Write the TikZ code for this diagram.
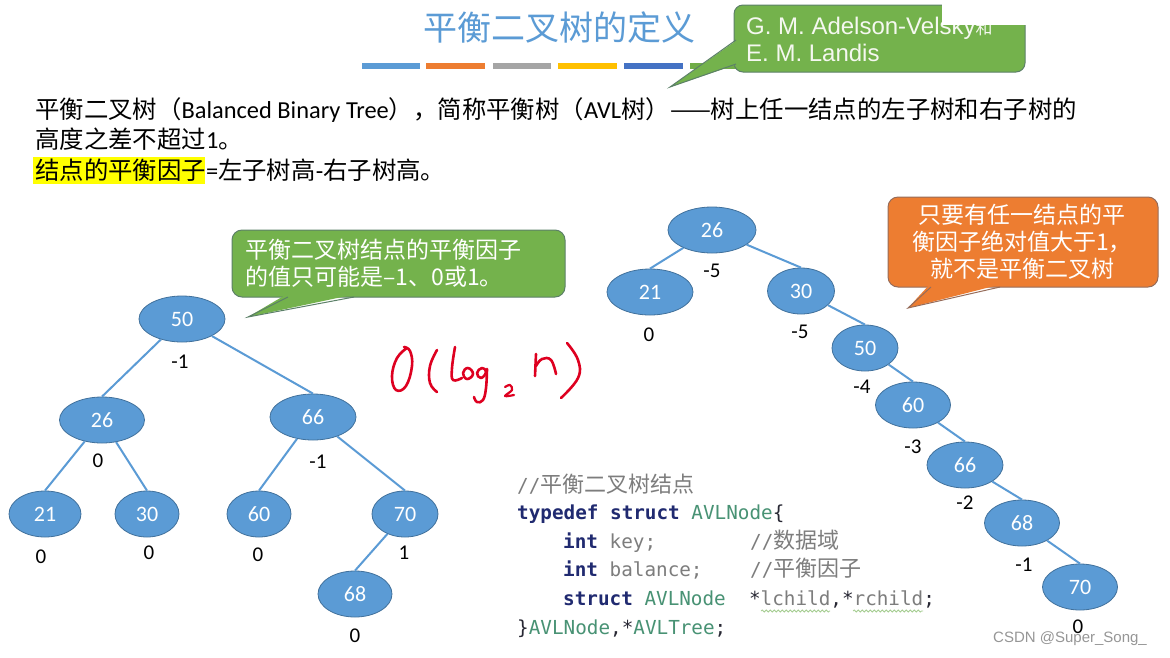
\documentclass[tikz,border=0pt]{standalone}
\usepackage{fontspec}
\usetikzlibrary{shapes.geometric,decorations.pathmorphing}
\setmainfont{Carlito}
\newfontfamily\fCJK{Noto Sans CJK SC}
\newfontfamily\fLat{Carlito}
\newfontfamily\fArial{Liberation Sans}
\newfontfamily\fMono{DejaVu Sans Mono}
\definecolor{nodeblue}{RGB}{91,155,213}
\definecolor{nodeedge}{RGB}{65,113,156}
\definecolor{titleblue}{RGB}{91,155,213}
\definecolor{cgreen}{RGB}{116,178,76}
\definecolor{cgreenedge}{RGB}{92,128,104}
\definecolor{corange}{RGB}{237,125,49}
\definecolor{corangeedge}{RGB}{150,108,90}
\definecolor{hlyellow}{RGB}{255,255,0}
\definecolor{hred}{RGB}{222,0,32}
\definecolor{kwblue}{RGB}{32,42,112}
\definecolor{typeteal}{RGB}{72,146,116}
\definecolor{codegray}{RGB}{125,125,125}
\definecolor{codedark}{RGB}{40,40,52}
\definecolor{wavegreen}{RGB}{165,205,145}
\definecolor{barA}{RGB}{91,155,213}
\definecolor{barB}{RGB}{237,125,49}
\definecolor{barC}{RGB}{165,165,165}
\definecolor{barD}{RGB}{255,192,0}
\definecolor{barE}{RGB}{68,114,196}
\definecolor{barF}{RGB}{112,173,71}
\definecolor{wmgray}{RGB}{150,150,150}
\definecolor{calltext}{RGB}{245,248,240}
\newcommand{\cwid}{11.6pt}
\newcommand{\kw}[1]{{\bfseries\color{kwblue}#1}}
\newcommand{\ty}[1]{{\color{typeteal}#1}}
\newcommand{\gr}[1]{{\color{codegray}#1}}
\newcommand{\dk}[1]{{\color{codedark}#1}}
\newcommand{\cc}[1]{{\fCJK\fontsize{22}{22}\selectfont #1}}
\tikzset{
  tnode/.style={ellipse, fill=nodeblue, draw=nodeedge, line width=0.8pt, inner sep=0pt,
    minimum height=46pt, text=white, font=\fLat\fontsize{22}{22}\selectfont},
  bal/.style={font=\fLat\fontsize{21}{21}\selectfont, text=black, inner sep=0pt},
  tedge/.style={draw=nodeblue, line width=2pt},
  body/.style={font=\fCJK\fontsize{24.4}{24.4}\selectfont, text=black, inner sep=0pt, anchor=west},
  ctext/.style={text=white, font=\fCJK\fontsize{23}{27}\selectfont, inner sep=0pt},
  codeline/.style={font=\fMono\fontsize{19.3}{19.3}\selectfont, inner sep=0pt, anchor=base west},
  hw/.style={draw=hred, line width=2.6pt, line cap=round, line join=round},
}
\begin{document}
\begin{tikzpicture}[x=1pt,y=-1pt]
\useasboundingbox (0,0) rectangle (1170,657);
\fill[white] (0,0) rectangle (1170,657);

% title and colour bars
\node[text=titleblue, font=\fCJK\fontsize{34}{34}\selectfont, inner sep=0pt] (title) at (559,28) {平衡二叉树的定义};
\fill[barA] (362,63) rectangle (420,69);
\fill[barB] (426,63) rectangle (485,69);
\fill[barC] (493,63) rectangle (551,69);
\fill[barD] (558,63) rectangle (617,69);
\fill[barE] (624,63) rectangle (683,69);
\fill[barF] (690,63) rectangle (749,69);

% top callout
\draw[fill=cgreen, draw=cgreenedge, line width=1pt, rounded corners=9pt] (734,5) rectangle (1025,72);
\fill[cgreen] (740,38) -- (670,87) -- (744,62) -- cycle;
\draw[cgreenedge, line width=1pt] (736,40) -- (670,87) -- (736,64);
\node[text=calltext, font=\fArial\fontsize{24}{24}\selectfont, inner sep=0pt, anchor=base west] (au1) at (746,34) {G. M. Adelson-Velsky{\fCJK\fontsize{17}{17}\selectfont 和}};
\node[text=calltext, font=\fArial\fontsize{24}{24}\selectfont, inner sep=0pt, anchor=base west] (au2) at (746,61) {E. M. Landis};
\fill[white] (942,0) rectangle (1027,25);

% body text
\node[body] (t1) at (35,110) {平衡二叉树（{\fLat Balanced Binary Tree}），简称平衡树（{\fLat AVL}树）——树上任一结点的左子树和右子树的};
\node[body] (t2) at (35,139) {高度之差不超过{\fLat 1}。};
\fill[hlyellow] (33,157) rectangle (205,184);
\node[body] (t3) at (35,170) {结点的平衡因子{\fLat =}左子树高{\fLat -}右子树高。};

% left callout
\draw[fill=cgreen, draw=cgreenedge, line width=1pt, rounded corners=10pt] (232,230) rectangle (565,297);
\fill[cgreen] (287,294) -- (248,317) -- (356,294) -- cycle;
\draw[cgreenedge, line width=1pt] (288,297) -- (248,317) -- (354,297);
\node[ctext, align=left, anchor=west] (c1) at (245,263) {平衡二叉树结点的平衡因子\\的值只可能是–1、0或1。};

% right callout
\draw[fill=corange, draw=corangeedge, line width=1pt, rounded corners=10pt] (888,197) rectangle (1158,287);
\fill[corange] (930,284) -- (908,308) -- (1002,284) -- cycle;
\draw[corangeedge, line width=1pt] (931,287) -- (908,308) -- (1000,287);
\node[ctext, align=center] (c2) at (1022,242) {只要有任一结点的平\\衡因子绝对值大于1，\\就不是平衡二叉树};

% left tree
\node[tnode, minimum width=86pt] (L50) at (182,319) {50};
\node[tnode, minimum width=85pt] (L26) at (102,420) {26};
\node[tnode, minimum width=86pt] (L66) at (313,417) {66};
\node[tnode, minimum width=72pt] (L21) at (45,514) {21};
\node[tnode, minimum width=64pt] (L30) at (147,514) {30};
\node[tnode, minimum width=64pt] (L60) at (259,514) {60};
\node[tnode, minimum width=66pt] (L70) at (405,514) {70};
\node[tnode, minimum width=74pt] (L68) at (355,594) {68};
\draw[tedge] (L50) -- (L26.north);
\draw[tedge] (L50) -- (L66.north);
\draw[tedge] (L26) -- (L21.north);
\draw[tedge] (L26) -- (L30.north);
\draw[tedge] (L66) -- (L60.north);
\draw[tedge] (L66) -- (L70.north);
\draw[tedge] (L70) -- (L68.north);
\node[bal] (b50) at (180,362) {-1};
\node[bal] (b26) at (98,461) {0};
\node[bal] (b66) at (318,462) {-1};
\node[bal] (b21) at (41,557) {0};
\node[bal] (b30) at (149,553) {0};
\node[bal] (b60) at (258,555) {0};
\node[bal] (b70) at (404,553) {1};
\node[bal] (b68) at (355,636) {0};

% right tree
\node[tnode, minimum width=88pt] (R26) at (712,230) {26};
\node[tnode, minimum width=86pt] (R21) at (650,292) {21};
\node[tnode, minimum width=67pt] (R30) at (801,291) {30};
\node[tnode, minimum width=66pt] (R50) at (865,348) {50};
\node[tnode, minimum width=75pt] (R60) at (913,405) {60};
\node[tnode, minimum width=76pt] (R66) at (965,465) {66};
\node[tnode, minimum width=75pt] (R68) at (1022,523) {68};
\node[tnode, minimum width=75pt] (R70) at (1080,587) {70};
\draw[tedge] (R26) -- (R21.north);
\draw[tedge] (R26) -- (R30.north);
\draw[tedge] (R30) -- (R50.north);
\draw[tedge] (R50) -- (R60.north);
\draw[tedge] (R60) -- (R66.north);
\draw[tedge] (R66) -- (R68.north);
\draw[tedge] (R68) -- (R70.north);
\node[bal] (rb26) at (712,271) {-5};
\node[bal] (rb21) at (649,335) {0};
\node[bal] (rb30) at (800,332) {-5};
\node[bal] (rb50) at (862,387) {-4};
\node[bal] (rb60) at (913,447) {-3};
\node[bal] (rb66) at (965,503) {-2};
\node[bal] (rb68) at (1024,565) {-1};
\node[bal] (rb70) at (1078,627) {0};

% handwritten O(log2 n)
\draw[hw] plot[smooth, tension=0.7] coordinates {(407,348) (397,358) (392,376) (396,390) (406,386) (412,366) (410,351) (404,347)};
\draw[hw] plot[smooth, tension=0.7] coordinates {(437,350) (430,366) (430,383) (437,392)};
\draw[hw] plot[smooth, tension=0.7] coordinates {(455,347) (452,368) (453,380) (462,378)};
\draw[hw] plot[smooth cycle, tension=0.8] coordinates {(468,368) (463,373) (467,379) (473,374)};
\draw[hw] plot[smooth cycle, tension=0.8] coordinates {(482,368) (477,373) (481,378) (486,372)};
\draw[hw] plot[smooth, tension=0.7] coordinates {(487,369) (486,388) (483,400) (477,402) (474,397)};
\draw[hw, line width=2.2pt] plot[smooth, tension=0.6] coordinates {(505,387) (510,385) (512,390) (505,396) (514,395)};
\draw[hw] plot[smooth, tension=0.7] coordinates {(536,354) (535,376)};
\draw[hw] plot[smooth, tension=0.7] coordinates {(536,366) (542,359) (551,360) (556,374)};
\draw[hw] plot[smooth, tension=0.7] coordinates {(567,343) (578,360) (578,378) (561,398)};

% code block
\node[codeline] (k1) at (517,492) {\gr{//\cc{平衡二叉树结点}}};
\node[codeline] (k2) at (517,519) {\kw{typedef}\hspace{\cwid}\kw{struct}\hspace{\cwid}\ty{AVLNode}\dk{\{}};
\node[codeline] (k3) at (563,548) {\kw{int}\hspace{\cwid}\gr{key;}};
\node[codeline] (k3c) at (750,548) {\gr{//\cc{数据域}}};
\node[codeline] (k4) at (563,576) {\kw{int}\hspace{\cwid}\gr{balance;}};
\node[codeline] (k4c) at (750,576) {\gr{//\cc{平衡因子}}};
\node[codeline] (k5) at (563,605) {\kw{struct}\hspace{\cwid}\ty{AVLNode}\hspace{\cwid}\hspace{\cwid}\dk{*}\gr{lchild}\dk{,*}\gr{rchild}\dk{;}};
\node[codeline] (k6) at (517,634) {\dk{\}}\ty{AVLNode}\dk{,*}\ty{AVLTree}\dk{;}};
\draw[wavegreen, line width=0.8pt, decorate, decoration={snake, amplitude=1pt, segment length=4pt}] (761,611) -- (830,611);
\draw[wavegreen, line width=0.8pt, decorate, decoration={snake, amplitude=1pt, segment length=4pt}] (853,611) -- (923,611);

% watermark
\node[text=wmgray, font=\fArial\fontsize{15}{15}\selectfont, inner sep=0pt, anchor=west] (wm) at (993,639) {CSDN @Super\_Song\_};
\end{tikzpicture}
\end{document}
